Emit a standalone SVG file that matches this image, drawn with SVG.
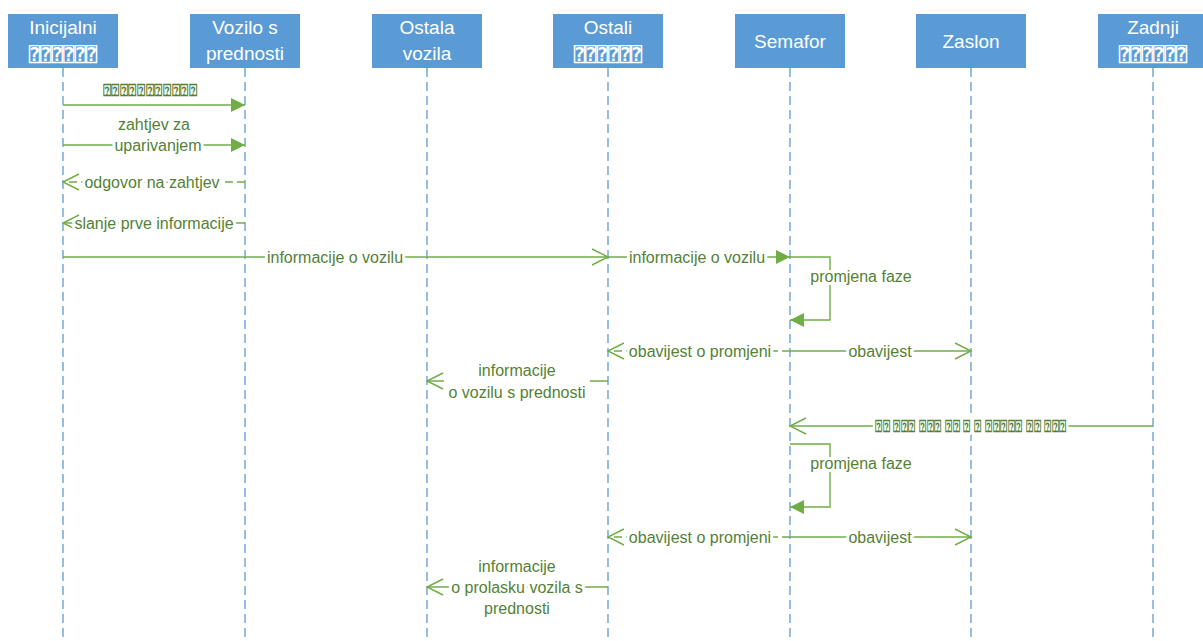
<svg xmlns="http://www.w3.org/2000/svg" width="1203" height="641" viewBox="0 0 1203 641">
<style>
.box{fill:#5B9BD5;}
.ht{fill:#fff;font-family:"Liberation Sans",Arial,sans-serif;font-size:19px;text-anchor:middle;dominant-baseline:central;}
.tofu{font-family:"DejaVu Sans","DejaVu Sans Mono",sans-serif;font-weight:bold;}
.life{stroke:#5B9BD5;stroke-width:1.3;stroke-dasharray:9,5;fill:none;}
.msg{stroke:#70AD47;stroke-width:1.4;fill:none;}
.dash{stroke-dasharray:8,4;}
.lbl{fill:#548235;font-family:"Liberation Sans",Arial,sans-serif;font-size:16px;text-anchor:middle;dominant-baseline:central;stroke:#fff;stroke-width:6px;stroke-linejoin:round;paint-order:stroke;}
.bg{fill:#fff;}
</style>
<defs>
<marker id="af" markerUnits="userSpaceOnUse" markerWidth="16" markerHeight="16" refX="14" refY="8" orient="auto">
<path d="M0,1 L14,8 L0,15 Z" fill="#70AD47"/>
</marker>
<marker id="ao" markerUnits="userSpaceOnUse" markerWidth="20" markerHeight="20" refX="17" refY="10" orient="auto">
<path d="M1,2 L17,10 L1,18" fill="none" stroke="#70AD47" stroke-width="1.4"/>
</marker>
</defs>
<rect width="1203" height="641" fill="#fff"/>
<g id="lifelines">
<line class="life" x1="63" y1="68" x2="63" y2="641"/>
<line class="life" x1="245" y1="68" x2="245" y2="641"/>
<line class="life" x1="427" y1="68" x2="427" y2="641"/>
<line class="life" x1="608" y1="68" x2="608" y2="641"/>
<line class="life" x1="790" y1="68" x2="790" y2="641"/>
<line class="life" x1="971" y1="68" x2="971" y2="641"/>
<line class="life" x1="1153" y1="68" x2="1153" y2="641"/>
</g>
<g id="n-inicijalni"><rect class="box" x="8" y="14" width="110" height="54"/><text class="ht" x="63" y="27">Inicijalni</text><text class="ht tofu" x="63" y="54" font-size="15">⍰⍰⍰⍰⍰⍰</text></g>
<g id="n-vozilo"><rect class="box" x="190" y="14" width="110" height="54"/><text class="ht" x="245" y="27">Vozilo s</text><text class="ht" x="245" y="53">prednosti</text></g>
<g id="n-ostala"><rect class="box" x="372" y="14" width="110" height="54"/><text class="ht" x="427" y="27">Ostala</text><text class="ht" x="427" y="53">vozila</text></g>
<g id="n-ostali"><rect class="box" x="553" y="14" width="110" height="54"/><text class="ht" x="608" y="27">Ostali</text><text class="ht tofu" x="608" y="54" font-size="15">⍰⍰⍰⍰⍰⍰</text></g>
<g id="n-semafor"><rect class="box" x="735" y="14" width="110" height="54"/><text class="ht" x="790" y="41">Semafor</text></g>
<g id="n-zaslon"><rect class="box" x="916" y="14" width="110" height="54"/><text class="ht" x="971" y="41">Zaslon</text></g>
<g id="n-zadnji"><rect class="box" x="1098" y="14" width="110" height="54"/><text class="ht" x="1153" y="27">Zadnji</text><text class="ht tofu" x="1153" y="54" font-size="15">⍰⍰⍰⍰⍰⍰</text></g>
<g id="connectors">
<line class="msg" x1="63" y1="105" x2="245" y2="105" marker-end="url(#af)"/>
<text class="lbl tofu" x="150" y="90" font-size="13" textLength="95" lengthAdjust="spacingAndGlyphs">⍰⍰⍰⍰⍰⍰⍰⍰⍰⍰⍰</text>
<line class="msg" x1="63" y1="145" x2="245" y2="145" marker-end="url(#af)"/>
<text class="lbl" x="154" y="124">zahtjev za</text>
<text class="lbl" x="158" y="145">uparivanjem</text>
<line class="msg dash" x1="245" y1="182" x2="63" y2="182" marker-end="url(#ao)"/>
<text class="lbl" x="152" y="182">odgovor na zahtjev</text>
<line class="msg" x1="245" y1="223" x2="63" y2="223" marker-end="url(#ao)"/>
<text class="lbl" x="154" y="223">slanje prve informacije</text>
<line class="msg" x1="63" y1="257" x2="608" y2="257" marker-end="url(#ao)"/>
<text class="lbl" x="335" y="257">informacije o vozilu</text>
<line class="msg" x1="608" y1="257" x2="790" y2="257" marker-end="url(#af)"/>
<text class="lbl" x="697" y="257">informacije o vozilu</text>
<path class="msg" d="M790,257 H830 V320 H790" marker-end="url(#af)"/>
<text class="lbl" x="861" y="276">promjena faze</text>
<line class="msg dash" x1="790" y1="351" x2="608" y2="351" marker-end="url(#ao)"/>
<text class="lbl" x="700" y="351">obavijest o promjeni</text>
<line class="msg" x1="790" y1="351" x2="971" y2="351" marker-end="url(#ao)"/>
<text class="lbl" x="880" y="351">obavijest</text>
<line class="msg" x1="608" y1="381" x2="427" y2="381" marker-end="url(#ao)"/>
<rect class="bg" x="444" y="360" width="146" height="43"/>
<text class="lbl" x="517" y="370">informacije</text>
<text class="lbl" x="517" y="392">o vozilu s prednosti</text>
<line class="msg" x1="1153" y1="426" x2="790" y2="426" marker-end="url(#ao)"/>
<text class="lbl tofu" x="971" y="426" font-size="13" textLength="192" lengthAdjust="spacingAndGlyphs">⍰⍰ ⍰⍰⍰ ⍰⍰⍰ ⍰⍰ ⍰ ⍰ ⍰⍰⍰⍰⍰ ⍰⍰ ⍰⍰⍰</text>
<path class="msg" d="M790,444 H830 V507 H790" marker-end="url(#af)"/>
<text class="lbl" x="861" y="463">promjena faze</text>
<line class="msg dash" x1="790" y1="537" x2="608" y2="537" marker-end="url(#ao)"/>
<text class="lbl" x="700" y="537">obavijest o promjeni</text>
<line class="msg" x1="790" y1="537" x2="971" y2="537" marker-end="url(#ao)"/>
<text class="lbl" x="880" y="537">obavijest</text>
<line class="msg" x1="608" y1="587" x2="427" y2="587" marker-end="url(#ao)"/>
<text class="lbl" x="517" y="566">informacije</text>
<text class="lbl" x="517" y="587">o prolasku vozila s</text>
<text class="lbl" x="517" y="608">prednosti</text>
</g>
</svg>
